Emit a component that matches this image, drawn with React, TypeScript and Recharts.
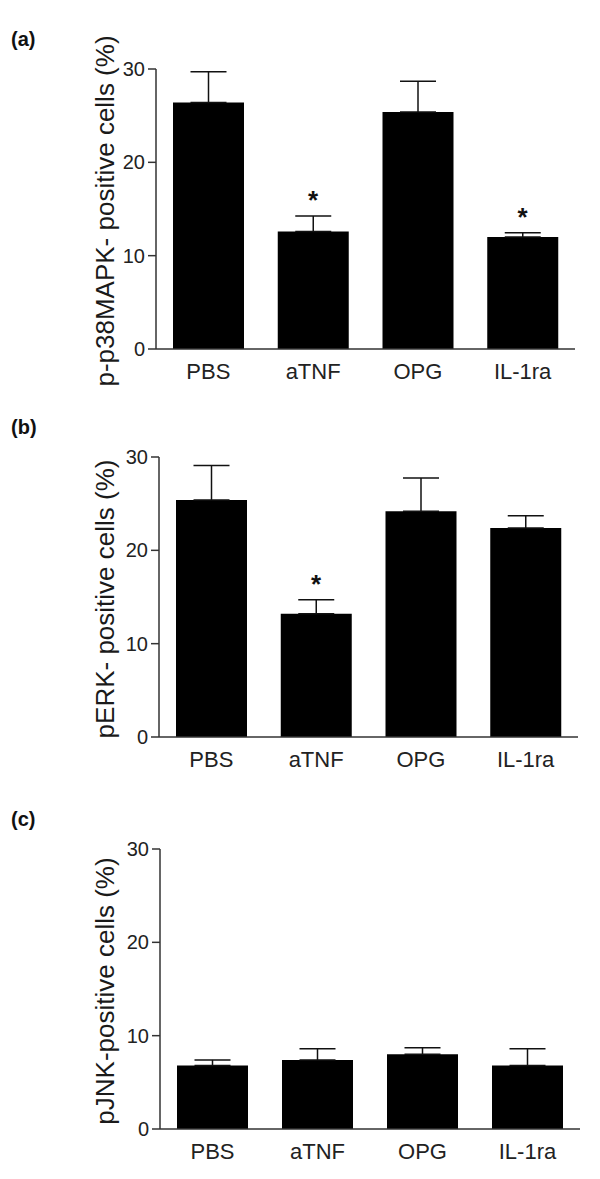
import { Bar, ComposedChart, ErrorBar, Scatter, XAxis, YAxis } from 'recharts'

const categories = ['PBS', 'aTNF', 'OPG', 'IL-1ra']
const yTicks = [0, 10, 20, 30]

const p38Mean = [26.4, 12.6, 25.4, 12.0]
const p38Sem = [3.3, 1.65, 3.3, 0.45]
const p38Sig = [false, true, false, true]

const erkMean = [25.4, 13.2, 24.2, 22.4]
const erkSem = [3.7, 1.5, 3.55, 1.3]
const erkSig = [false, true, false, false]

const jnkMean = [6.8, 7.4, 8.0, 6.8]
const jnkSem = [0.6, 1.2, 0.7, 1.8]
const jnkSig = [false, false, false, false]

const FONT = '"Liberation Sans", Arial, Helvetica, sans-serif'
const TOP_PAD = 40
const PLOT_H = 280

const buildRows = (mean: number[], sem: number[], sig: boolean[]) =>
  categories.map((name, i) => ({
    name,
    mean: mean[i],
    // only the upper whisker is shown
    sem: [0, sem[i]],
    top: mean[i] + sem[i],
    sig: sig[i],
  }))

function Star(props: any) {
  const { cx, cy, payload } = props
  if (!payload || !payload.sig) return null
  return (
    <text
      x={cx}
      y={cy - 7}
      textAnchor="middle"
      fontSize={26}
      fontWeight="bold"
      fontFamily={FONT}
      fill="#111"
    >
      *
    </text>
  )
}

type PanelProps = {
  tag: string
  title: string
  plotTop: number
  axisX: number
  right: number
  rows: ReturnType<typeof buildRows>
}

function Panel({ tag, title, plotTop, axisX, right, rows }: PanelProps) {
  const chartTop = plotTop - TOP_PAD
  const labelY = TOP_PAD + PLOT_H / 2 + 2
  return (
    <>
      <div
        style={{
          position: 'absolute',
          left: 11,
          top: plotTop - 41,
          fontFamily: FONT,
          fontWeight: 'bold',
          fontSize: 20,
          color: '#111',
        }}
      >
        {tag}
      </div>
      <div style={{ position: 'absolute', left: 0, top: chartTop }}>
        <ComposedChart
          width={600}
          height={TOP_PAD + PLOT_H + 45}
          data={rows}
          margin={{ top: TOP_PAD, right: 600 - right, left: 0, bottom: 0 }}
        >
          <XAxis
            dataKey="name"
            height={45}
            tickLine={false}
            tickSize={0}
            tickMargin={14}
            axisLine={{ stroke: '#333', strokeWidth: 1.5 }}
            tick={{ fill: '#222', fontSize: 22, fontFamily: FONT }}
          />
          <YAxis
            width={axisX}
            domain={[0, 30]}
            ticks={yTicks}
            tickSize={8}
            tickMargin={3}
            allowDataOverflow
            axisLine={{ stroke: '#333', strokeWidth: 1.5 }}
            tickLine={{ stroke: '#333', strokeWidth: 1.5 }}
            tick={{ fill: '#222', fontSize: 20, fontFamily: FONT }}
            label={{
              content: () => (
                <text
                  x={105}
                  y={labelY}
                  transform={`rotate(-90, 105, ${labelY})`}
                  textAnchor="middle"
                  dominantBaseline="central"
                  fontSize={26}
                  fontFamily={FONT}
                  fill="#1a1a1a"
                >
                  {title}
                </text>
              ),
            }}
          />
          <Bar dataKey="mean" fill="#000" barSize={71} isAnimationActive={false}>
            <ErrorBar
              dataKey="sem"
              direction="y"
              width={18}
              stroke="#111"
              strokeWidth={1.5}
              isAnimationActive={false}
            />
          </Bar>
          <Scatter dataKey="top" shape={Star} isAnimationActive={false} />
        </ComposedChart>
      </div>
    </>
  )
}

export default function App() {
  return (
    <div
      style={{
        position: 'absolute',
        left: 0,
        top: 0,
        width: 600,
        height: 1179,
        background: '#fff',
      }}
    >
      <Panel
        tag="(a)"
        title="p-p38MAPK- positive cells (%)"
        plotTop={69}
        axisX={156}
        right={575}
        rows={buildRows(p38Mean, p38Sem, p38Sig)}
      />
      <Panel
        tag="(b)"
        title="pERK- positive cells (%)"
        plotTop={457}
        axisX={159}
        right={578}
        rows={buildRows(erkMean, erkSem, erkSig)}
      />
      <Panel
        tag="(c)"
        title="pJNK-positive cells (%)"
        plotTop={849}
        axisX={160}
        right={580}
        rows={buildRows(jnkMean, jnkSem, jnkSig)}
      />
    </div>
  )
}
